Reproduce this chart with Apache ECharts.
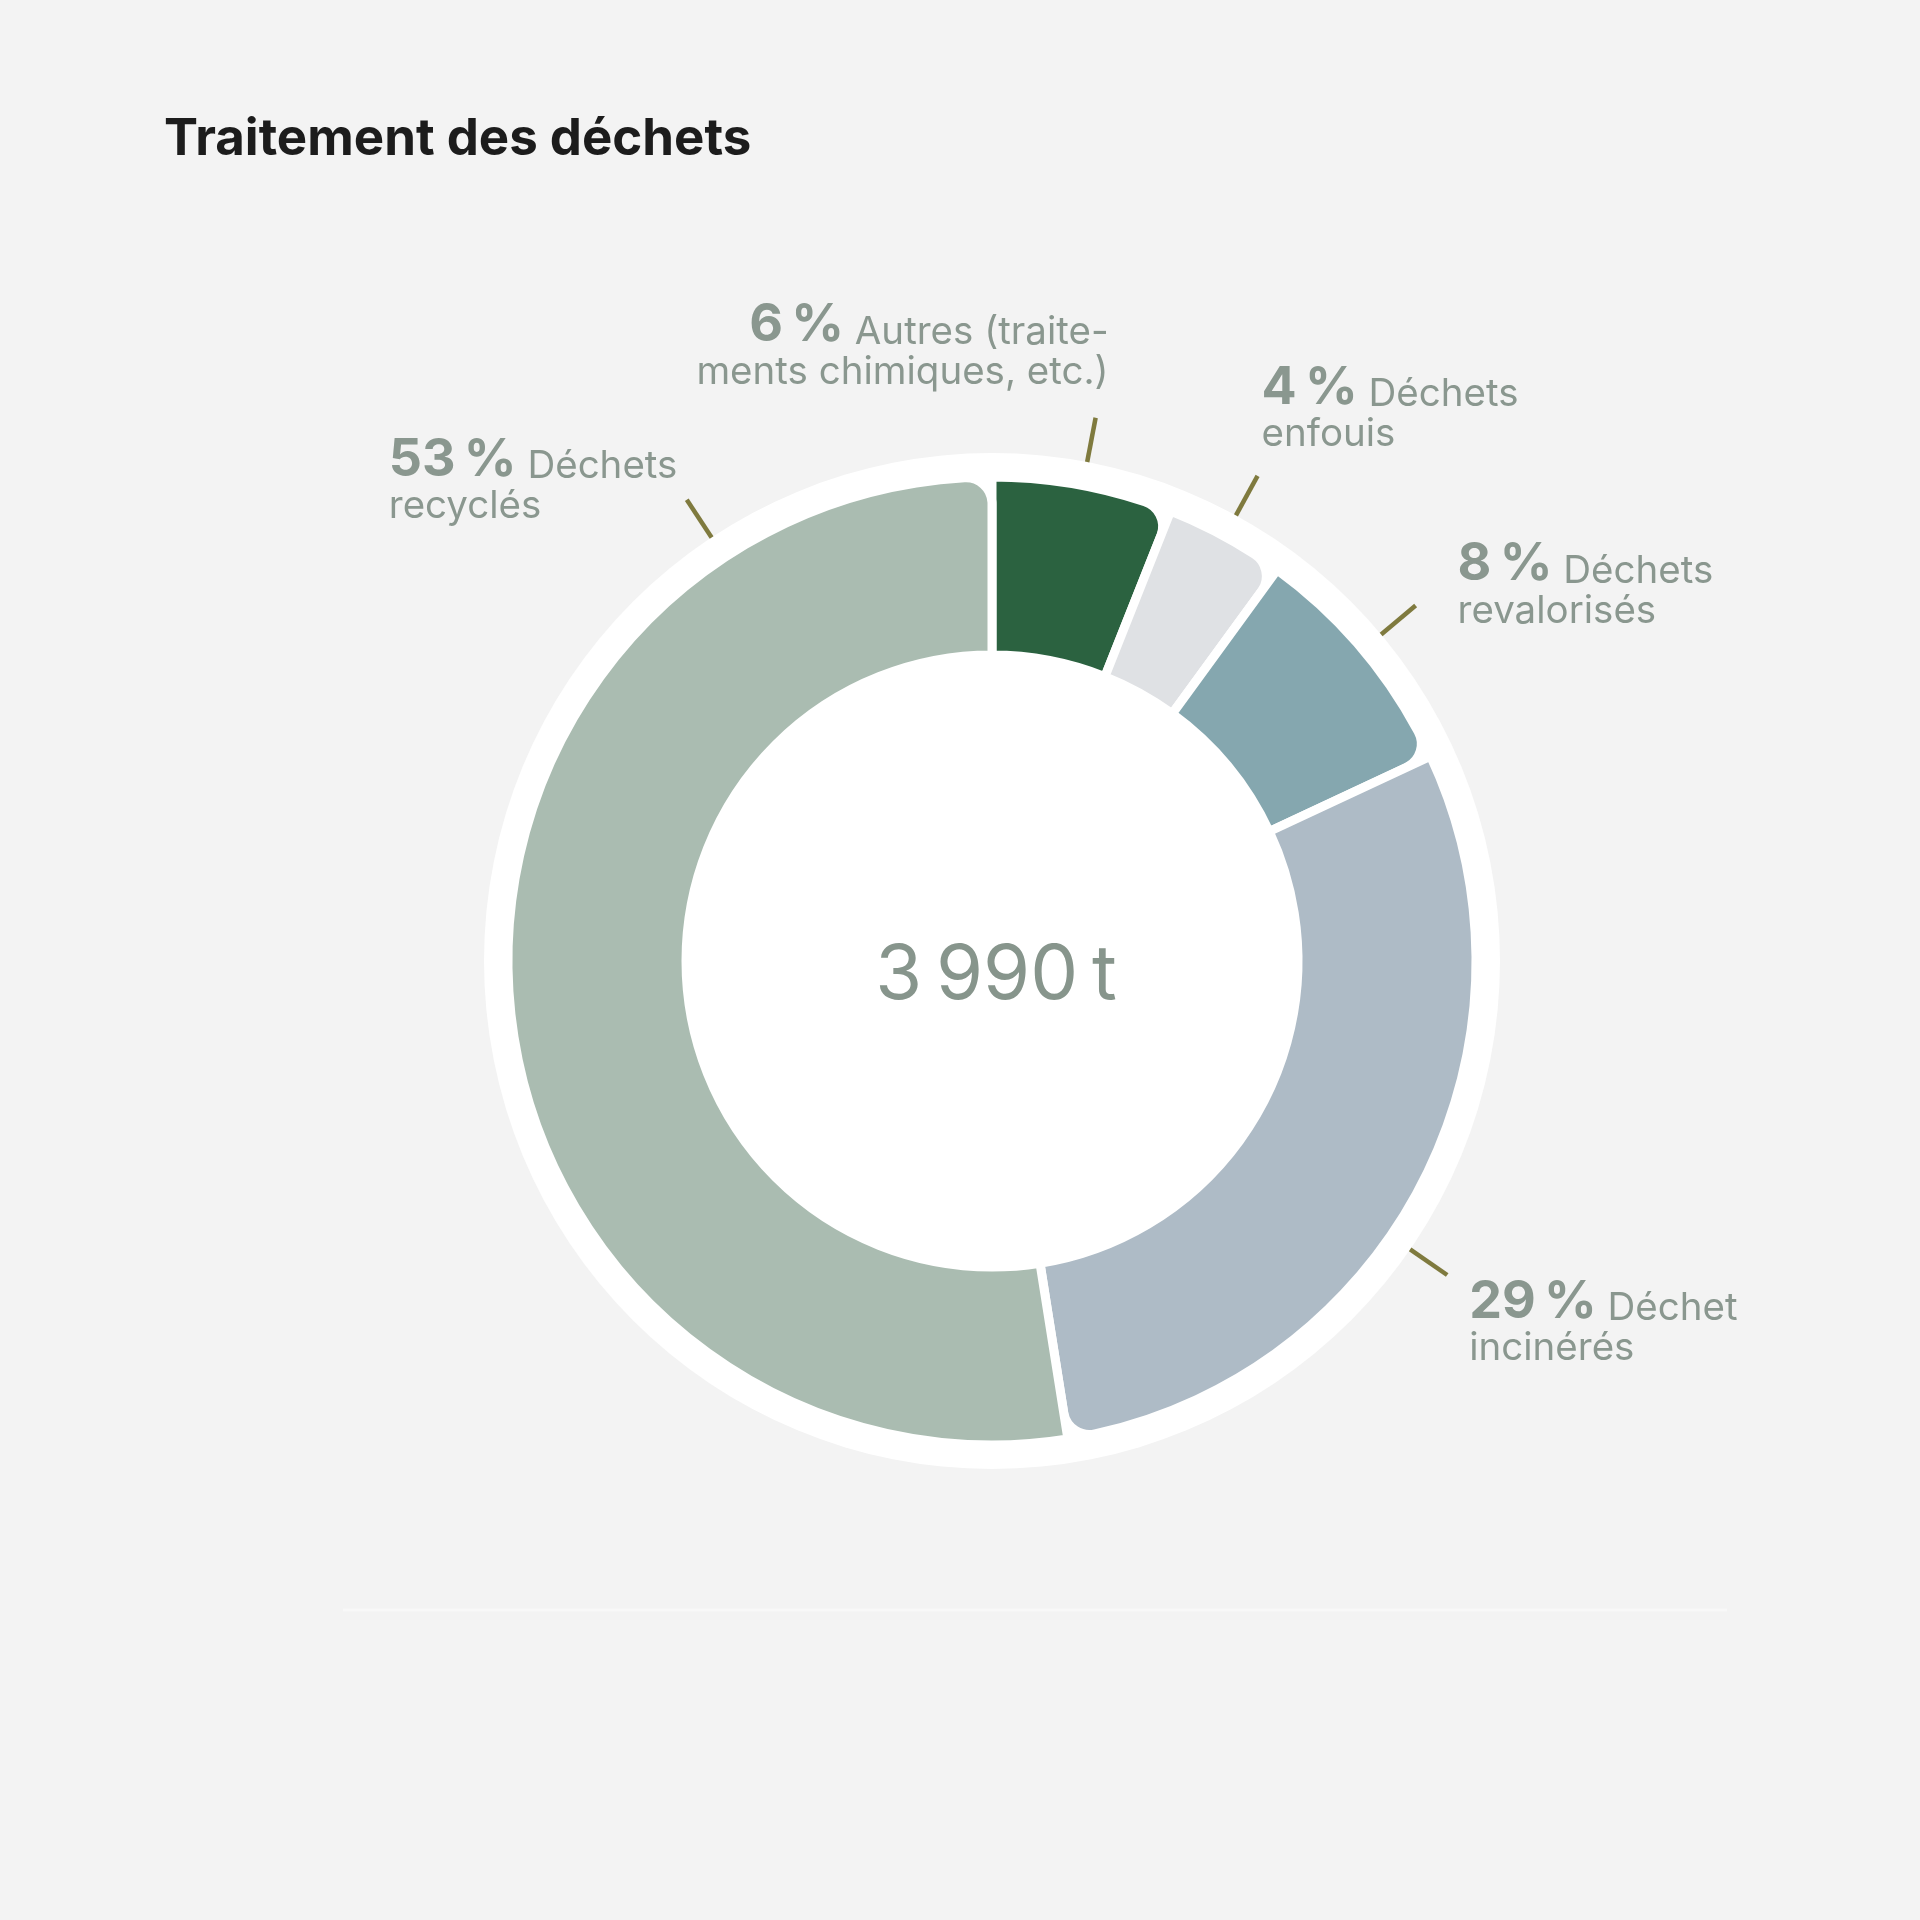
<!DOCTYPE html>
<html>
<head>
<meta charset="utf-8">
<script src="https://cdn.jsdelivr.net/npm/echarts@6/dist/echarts.min.js"></script>
<style>
  html, body { margin: 0; padding: 0; background: #f3f3f3; }
  #chart { width: 1920px; height: 1920px; }
</style>
</head>
<body>
<div id="chart"></div>
<script>
// données (tonnes, estimées d'après les parts)
var categories = ['Autres (traite-\nments chimiques, etc.)', 'Déchets\nenfouis', 'Déchets\nrevalorisés', 'Déchet\nincinérés', 'Déchets\nrecyclés'];
var tonnes = [240, 160, 320, 1175, 2095];

// couleurs des parts
var colors = ['#2b6240', '#dfe1e4', '#85a7af', '#aebbc6', '#aabcb1'];

// position des étiquettes : angle du trait + décalage du texte
var labelPos = [
    { angle: 10.8, dx: 13, dy: -121, align: 'right' },
    { angle: 28.7, dx: 4, dy: -117, align: 'left' },
    { angle: 50, dx: 42, dy: -70, align: 'left' },
    { angle: 124.6, dx: 22, dy: -2, align: 'left' },
    { angle: 326.5, dx: -298, dy: -69, align: 'left' }
];

var cx = 992, cy = 961;
var textColor = '#8a978f';

var chart = echarts.init(document.getElementById('chart'));

var ringData = tonnes.map(function (v, i) {
    return { name: categories[i], value: v, itemStyle: { color: colors[i] } };
});

var total = tonnes.reduce(function (a, b) { return a + b; }, 0);

function fmtTotal(n) {
    var s = String(n);
    return s.replace(/\B(?=(\d{3})+(?!\d))/g, '\u202f') + '\u202ft';
}

var option = {
    backgroundColor: '#f3f3f3',
    title: {
        text: 'Traitement des déchets',
        left: 164,
        top: 114,
        padding: 0,
        textStyle: {
            fontFamily: 'Inter',
            fontSize: 51,
            fontWeight: 700,
            color: '#1c1c1c'
        }
    },
    graphic: [
        {
            type: 'text',
            x: cx + 4,
            y: cy + 15,
            style: {
                text: fmtTotal(total),
                fontFamily: 'Inter',
                fontSize: 76,
                fill: '#87958c',
                align: 'center',
                verticalAlign: 'middle'
            },
            z: 10
        },
        {
            type: 'line',
            shape: { x1: 343, y1: 1610, x2: 1727, y2: 1610 },
            style: { stroke: '#f8f8f8', lineWidth: 3 }
        }
    ],
    series: [
        {
            // disque blanc
            type: 'pie',
            silent: true,
            center: [cx, cy],
            radius: [0, 508],
            label: { show: false },
            labelLine: { show: false },
            itemStyle: { color: '#ffffff' },
            data: [{ value: 1, name: '' }],
            z: 1
        },
        {
            type: 'pie',
            center: [cx, cy],
            radius: [306, 484],
            startAngle: 90,
            clockwise: true,
            avoidLabelOverlap: false,
            itemStyle: {
                borderColor: '#ffffff',
                borderWidth: 9,
                borderRadius: [0, 0, 0, 26]
            },
            label: {
                show: true,
                position: 'outside',
                fontFamily: 'Inter',
                color: textColor,
                formatter: function (p) {
                    var lines = p.name.split('\n');
                    return '{p|' + Math.round(p.percent) + '\u202f%}{t| ' + lines[0] + '}\n{t|' + lines[1] + '}';
                },
                rich: {
                    p: { fontFamily: 'Inter', fontSize: 52, fontWeight: 700, color: textColor, lineHeight: 55, verticalAlign: 'bottom' },
                    t: { fontFamily: 'Inter', fontSize: 38.5, color: textColor, lineHeight: 40, verticalAlign: 'bottom' }
                }
            },
            labelLine: {
                show: true,
                length: 20,
                length2: 0,
                lineStyle: { color: '#7f7a3e', width: 4.5 }
            },
            labelLayout: function (params) {
                var lp = labelPos[params.dataIndex];
                var a = lp.angle * Math.PI / 180;
                var x0 = cx + 508 * Math.sin(a), y0 = cy - 508 * Math.cos(a);
                var x1 = cx + 553 * Math.sin(a), y1 = cy - 553 * Math.cos(a);
                return {
                    x: x1 + lp.dx,
                    y: y1 + lp.dy,
                    align: lp.align,
                    verticalAlign: 'top',
                    labelLinePoints: [[x0, y0], [x1, y1]]
                };
            },
            data: ringData,
            z: 2
        }
    ]
};

chart.setOption(option);
</script>
</body>
</html>
